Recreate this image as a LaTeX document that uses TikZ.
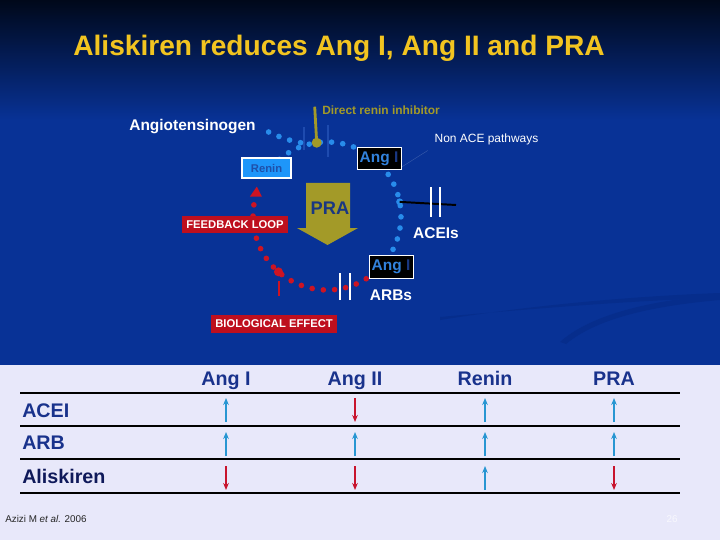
\documentclass[tikz,border=0pt]{standalone}
\usepackage{fontspec}
\setmainfont{Liberation Sans}
\usetikzlibrary{calc,arrows.meta}

\definecolor{slideblue}{RGB}{8,50,150}
\definecolor{topdark}{RGB}{0,8,26}
\definecolor{swirl}{RGB}{6,45,140}
\definecolor{tablebg}{RGB}{232,232,250}
\definecolor{titleyellow}{RGB}{242,196,32}
\definecolor{dotblue}{RGB}{40,140,235}
\definecolor{dotred}{RGB}{205,20,35}
\definecolor{tagred}{RGB}{190,15,30}
\definecolor{olivey}{RGB}{163,154,40}
\definecolor{dimbar}{RGB}{30,75,175}
\definecolor{reninfill}{RGB}{30,150,250}
\definecolor{renintext}{RGB}{30,80,170}
\definecolor{angblue}{RGB}{50,130,220}
\definecolor{angdim}{RGB}{25,55,130}
\definecolor{prablue}{RGB}{25,55,130}
\definecolor{tabblue}{RGB}{25,50,140}
\definecolor{tabnavy}{RGB}{15,25,90}
\definecolor{upblue}{RGB}{40,150,210}
\definecolor{downred}{RGB}{200,20,45}

\begin{document}
\begin{tikzpicture}[x=0.025cm,y=0.025cm,
  bluedots/.style={draw=dotblue,line width=4pt,line cap=round,dash pattern=on 0pt off 8pt},
  reddots/.style={draw=dotred,line width=4pt,line cap=round,dash pattern=on 0pt off 8pt},
  redtag/.style={fill=tagred,text=white,font=\fontsize{8}{9}\selectfont\bfseries,inner sep=1pt},
  angbox/.style={fill=black,draw=white,line width=0.7pt,text=angblue,font=\fontsize{11}{12}\selectfont\bfseries,minimum width=1.1cm,minimum height=0.56cm,inner sep=1pt},
  blockbar/.style={draw=white,line width=1.5pt},
  head/.style={text=tabblue,font=\fontsize{14}{16}\selectfont\bfseries,inner sep=0pt,anchor=base},
  uparr/.style={draw=upblue,line width=0.8pt,-{Stealth[length=5pt,width=4pt]}},
  downarr/.style={draw=downred,line width=0.8pt,-{Stealth[length=5pt,width=4pt]}}]
\useasboundingbox (0,0) rectangle (720,540);

% slide background
\fill[slideblue] (0,175) rectangle (720,540);
\shade[top color=topdark,bottom color=slideblue] (0,420) rectangle (720,540);
\fill[swirl] (440,220) .. controls (540,236) and (640,244) .. (720,247) -- (720,242) .. controls (640,240) and (540,232) .. (440,223) -- cycle;
\fill[swirl] (560,198) .. controls (590,225) and (650,240) .. (720,245) -- (720,240) .. controls (650,234) and (596,221) .. (566,196) -- cycle;
\fill[tablebg] (0,0) rectangle (720,175);

\node[text=titleyellow,font=\fontsize{20}{24}\selectfont\bfseries] (title) at (339,492) {Aliskiren reduces Ang I, Ang II and PRA};

% the cycle
\coordinate (O) at (327,324);
\coordinate (dri) at ($(O)+(98:74)$);
\coordinate (acedot) at ($(O)+(11:74)$);
\coordinate (effdot) at ($(O)+(-131:74)$);
\coordinate (join) at ($(O)+(104:74)$);

\node[text=white,font=\fontsize{11}{13}\selectfont\bfseries] (agt) at (192.5,413) {Angiotensinogen};

\draw[dimbar,line width=1.5pt] (304,390) -- (304,413);
\draw[dimbar,line width=1.5pt] (328,383) -- (328,415);

\draw[bluedots] ($(agt.east)+(8,-5)$) to[bend right=8] (join);
\draw[bluedots] ($(O)+(130:74)$) arc[start angle=130,end angle=-38,radius=74];
\draw[reddots] ($(O)+(-58:74)$) arc[start angle=-58,end angle=-196,radius=74];
\fill[dotred] ($(O)+(-196:74)$) ++(-6,-1) -- ++(12,0) -- ++(-5,10) -- cycle;

% direct renin inhibitor
\draw[olivey,line width=2pt] (dri) -- ++(-2,36);
\fill[olivey] (dri) circle (5);
\node[anchor=west,inner sep=0pt,text=olivey,font=\fontsize{8.5}{10}\selectfont\bfseries] (dritext) at (322,430) {Direct renin inhibitor};

\node[fill=reninfill,draw=white,line width=0.8pt,minimum width=1.225cm,minimum height=0.5cm,inner sep=0pt,text=renintext,font=\fontsize{8}{9}\selectfont\bfseries] (renin) at (266.5,372) {Renin};

\node[text=white,font=\fontsize{8.5}{10}\selectfont] (nonace) at (486.5,401) {Non ACE pathways};
\draw[slideblue!80!white,line width=0.3pt] ($(nonace.south west)+(-2,-1)$) -- (400,372);
\node[angbox] (angone) at (379,381.5) {Ang \textcolor{angdim}{I}};

% ACEIs
\fill[dotblue] (acedot) circle (3.5);
\draw[black,line width=1.4pt] (acedot) -- (456,335);
\draw[blockbar] (431,323) -- (431,353);
\draw[blockbar] (440,323) -- (440,353);
\node[text=white,font=\fontsize{11}{13}\selectfont\bfseries] (aceis) at (436,307) {ACEIs};

% ARBs
\node[angbox] (angtwo) at (391,273) {Ang \textcolor{angdim}{I}};
\draw[blockbar] (340,240) -- (340,267);
\draw[blockbar] (350,240) -- (350,267);
\node[text=white,font=\fontsize{11}{13}\selectfont\bfseries] (arbs) at (391,245) {ARBs};

% biological effect
\fill[dotred] (effdot) circle (4.5);
\draw[dotred,line width=1pt] (279,259) -- (279,244);

% PRA arrow
\fill[olivey] (306,357) -- (350,357) -- (350,312) -- (358,312) -- (327.5,295) -- (297,312) -- (306,312) -- cycle;
\node[text=prablue,font=\fontsize{13}{15}\selectfont\bfseries] (pra) at (330,332) {PRA};

\node[redtag,minimum width=2.65cm,minimum height=0.4cm] (feedback) at (235,315.5) {FEEDBACK LOOP};
\node[redtag,minimum width=3.15cm,minimum height=0.425cm] (bioeffect) at (274,216) {BIOLOGICAL EFFECT};

% table
\node[head] (hangone) at (226,155) {Ang I};
\node[head] (hangtwo) at (355,155) {Ang II};
\node[head] (hrenin) at (485,155) {Renin};
\node[head] (hpra) at (614,155) {PRA};
\draw[black,line width=1.4pt] (20,147) -- (680,147);
\draw[black,line width=1.4pt] (20,114) -- (680,114);
\draw[black,line width=1.4pt] (20,81) -- (680,81);
\draw[black,line width=1.4pt] (20,47) -- (680,47);
\node[head,anchor=base west] (acei) at (22,123) {ACEI};
\node[head,anchor=base west] (arb) at (22,91) {ARB};
\node[head,anchor=base west,text=tabnavy] (aliskiren) at (22,57) {Aliskiren};

\draw[uparr] (226,118) -- (226,142);
\draw[downarr] (355,142) -- (355,118);
\draw[uparr] (485,118) -- (485,142);
\draw[uparr] (614,118) -- (614,142);
\draw[uparr] (226,84) -- (226,108);
\draw[uparr] (355,84) -- (355,108);
\draw[uparr] (485,84) -- (485,108);
\draw[uparr] (614,84) -- (614,108);
\draw[downarr] (226,74) -- (226,50);
\draw[downarr] (355,74) -- (355,50);
\draw[uparr] (485,50) -- (485,74);
\draw[downarr] (614,74) -- (614,50);

\node[anchor=west,inner sep=0pt,text=black!85,font=\fontsize{7}{8}\selectfont] (source) at (5,21) {Azizi M \textit{et al.} 2006};
\node[text=white!70!tablebg,font=\fontsize{7}{8}\selectfont] (pagenum) at (672,21) {26};
\end{tikzpicture}
\end{document}
